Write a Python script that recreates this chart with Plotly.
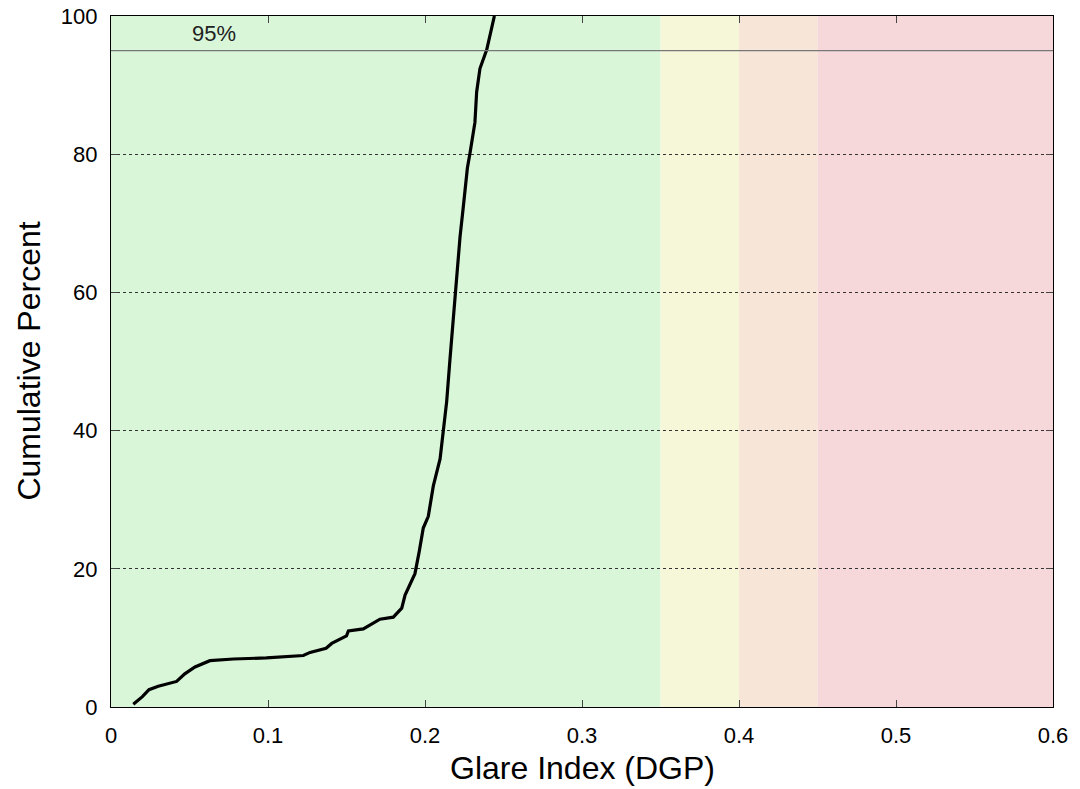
import plotly.graph_objects as go

# Cumulative distribution of glare index (DGP)
dgp = [0.0142, 0.0200, 0.0242, 0.0301, 0.0418, 0.0470, 0.0535, 0.0630, 0.0780, 0.0990,
       0.1225, 0.1268, 0.1370, 0.1406, 0.1500, 0.1512, 0.1607, 0.1713, 0.1798, 0.1852,
       0.1873, 0.1915, 0.1936, 0.1964, 0.1989, 0.2021, 0.2053, 0.2096, 0.2117, 0.2138,
       0.2159, 0.2180, 0.2191, 0.2206, 0.2223, 0.2244, 0.2270, 0.2287, 0.2318, 0.2329,
       0.2350, 0.2393, 0.2442]
cum_pct = [0.4, 1.5, 2.5, 3.0, 3.7, 4.8, 5.8, 6.7, 6.95, 7.1,
           7.45, 7.9, 8.5, 9.2, 10.3, 11.0, 11.3, 12.7, 13.0, 14.3,
           16.2, 18.1, 19.3, 22.6, 25.9, 27.6, 32.0, 35.9, 39.8, 44.2,
           50.3, 56.4, 60.0, 64.1, 68.0, 72.4, 78.0, 80.2, 84.6, 89.0,
           92.4, 95.1, 100.0]

x_tickvals = [0, 0.1, 0.2, 0.3, 0.4, 0.5, 0.6]
x_ticktext = ["0", "0.1", "0.2", "0.3", "0.4", "0.5", "0.6"]
y_tickvals = [0, 20, 40, 60, 80, 100]
y_ticktext = ["0", "20", "40", "60", "80", "100"]

band_edges = [0.0, 0.35, 0.40, 0.45, 0.6]
band_colors = ["#d9f6d9", "#f6f7d8", "#f7e6d8", "#f6d8da"]
threshold = 95
threshold_label = "95%"

FONT = "Liberation Sans, Arial"

fig = go.Figure()

for i, c in enumerate(band_colors):
    fig.add_shape(type="rect", xref="x", yref="y", x0=band_edges[i], x1=band_edges[i + 1],
                  y0=0, y1=100, fillcolor=c, line_width=0, layer="below")

fig.add_hline(y=threshold, line=dict(color="#777777", width=1.3))
fig.add_annotation(x=0.0655, y=97.5, text=threshold_label, showarrow=False,
                   font=dict(size=22, color="#222222", family=FONT))

fig.add_trace(go.Scatter(x=dgp, y=cum_pct, mode="lines",
                         line=dict(color="black", width=3.2), showlegend=False))

axis_common = dict(showline=True, linecolor="black", linewidth=1.3, mirror="ticks",
                   ticks="inside", ticklen=7, tickwidth=1.3, tickcolor="#444444",
                   zeroline=False, automargin=False,
                   tickfont=dict(size=22, color="black", family=FONT))

fig.update_xaxes(range=[0, 0.6], tickvals=x_tickvals, ticktext=x_ticktext, showgrid=False,
                 ticklabelstandoff=8, **axis_common)
fig.update_yaxes(range=[0, 100], tickvals=y_tickvals, ticktext=y_ticktext,
                 showgrid=True, gridcolor="#333333", griddash="dot", gridwidth=1,
                 ticklabelstandoff=8, **axis_common)

fig.add_annotation(xref="paper", yref="paper", x=0.5, y=-0.088, yanchor="middle",
                   text="Glare Index (DGP)", showarrow=False,
                   font=dict(size=32, color="black", family=FONT))
fig.add_annotation(xref="paper", yref="paper", x=-0.088, y=0.5, xanchor="center",
                   text="Cumulative Percent", showarrow=False, textangle=-90,
                   font=dict(size=32, color="black", family=FONT))

fig.update_layout(width=1080, height=789, margin=dict(l=111, r=27, t=16, b=82),
                  paper_bgcolor="white", plot_bgcolor="white",
                  font=dict(family=FONT))

fig.write_html("out.html", config={"displayModeBar": False},
               post_script="document.body.style.margin='0';document.body.style.overflow='hidden';")
